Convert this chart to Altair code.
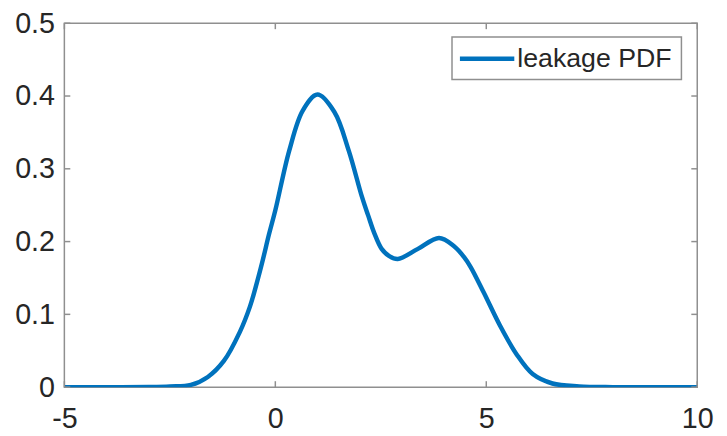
import altair as alt
import pandas as pd

# ---- data ----
x_vals = [-5, -4, -3, -2.5, -2, -1.6, -1.22, -0.84, -0.6, -0.44, -0.3, -0.15, 0, 0.33, 0.65,
          1.0, 1.4, 1.74, 2.05, 2.2, 2.35, 2.52, 2.7, 2.9, 3.38, 3.88, 4.23, 4.47, 4.63, 4.94,
          5.33, 5.72, 6.1, 6.57, 7.2, 8, 9, 10]
pdf_vals = [0, 0, 0.0003, 0.001, 0.003, 0.014, 0.036, 0.076, 0.111, 0.143, 0.174, 0.21, 0.243,
            0.325, 0.380, 0.402, 0.378, 0.325, 0.262, 0.236, 0.211, 0.190, 0.180, 0.176, 0.190,
            0.205, 0.194, 0.179, 0.165, 0.130, 0.084, 0.045, 0.018, 0.005, 0.001, 0, 0, 0]
series = ["leakage PDF"]
x_ticks = [-5, 0, 5, 10]
y_ticks = [0, 0.1, 0.2, 0.3, 0.4, 0.5]

W, H = 640, 368
BLUE = "#0072BD"
GRAY = "#8f8f8f"
TXT = "#262626"
FONT = "Liberation Sans"

df = pd.DataFrame({"x": x_vals, "y": pdf_vals, "series": series[0]})
xt = pd.DataFrame({"t": x_ticks})
yt = pd.DataFrame({"t": y_ticks})
leg = pd.DataFrame({"series": series})

xs = alt.Scale(domain=[-5, 10], nice=False, zero=False)
ys = alt.Scale(domain=[0, 0.5], nice=False)

X_AX = alt.Axis(values=x_ticks, title=None, ticks=False, tickSize=0, domain=False, grid=False,
                labelFlush=False, labelOverlap=False, labelPadding=18, labelFontSize=29,
                labelFont=FONT, labelColor=TXT, labelExpr="'' + datum.value")
Y_AX = alt.Axis(values=y_ticks, title=None, ticks=False, tickSize=0, domain=False, grid=False,
                labelFlush=False, labelOverlap=False, labelPadding=10, labelFontSize=29,
                labelFont=FONT, labelColor=TXT, format=".1~f")

line = alt.Chart(df).mark_line(color=BLUE, strokeWidth=4.5, interpolate="catmull-rom", clip=True).encode(
    x=alt.X("x:Q", scale=xs, axis=X_AX),
    y=alt.Y("y:Q", scale=ys, axis=Y_AX),
)

tick_style = dict(color=GRAY, strokeWidth=1.5)
xb = alt.Chart(xt).mark_rule(**tick_style).encode(
    x=alt.X("t:Q", scale=xs, axis=X_AX), y=alt.value(H), y2=alt.value(H - 6))
xtop = alt.Chart(xt).mark_rule(**tick_style).encode(
    x=alt.X("t:Q", scale=xs, axis=X_AX), y=alt.value(0), y2=alt.value(6))
yl = alt.Chart(yt).mark_rule(**tick_style).encode(
    y=alt.Y("t:Q", scale=ys, axis=Y_AX), x=alt.value(0), x2=alt.value(6))
yr = alt.Chart(yt).mark_rule(**tick_style).encode(
    y=alt.Y("t:Q", scale=ys, axis=Y_AX), x=alt.value(W), x2=alt.value(W - 6))

# legend box
leg_box = alt.Chart(leg).mark_rect(fill="white", stroke=GRAY, strokeWidth=1.5).encode(
    x=alt.value(392), x2=alt.value(624), y=alt.value(14), y2=alt.value(57))
leg_line = alt.Chart(leg).mark_rule(color=BLUE, strokeWidth=4.5).encode(
    x=alt.value(400), x2=alt.value(455), y=alt.value(36))
leg_text = alt.Chart(leg).mark_text(align="left", baseline="middle", fontSize=27, font=FONT,
                                     color=TXT).encode(
    x=alt.value(458), y=alt.value(36.5), text="series:N")

chart = alt.layer(line, xb, xtop, yl, yr, leg_box, leg_line, leg_text).properties(
    width=W, height=H,
    padding={"left": 57, "top": 13, "right": 22, "bottom": 47},
    autosize=alt.AutoSizeParams(type="none"),
).configure_view(stroke=GRAY, strokeWidth=1.5)

chart.save("out.html", embed_options={"renderer": "svg", "actions": False})
